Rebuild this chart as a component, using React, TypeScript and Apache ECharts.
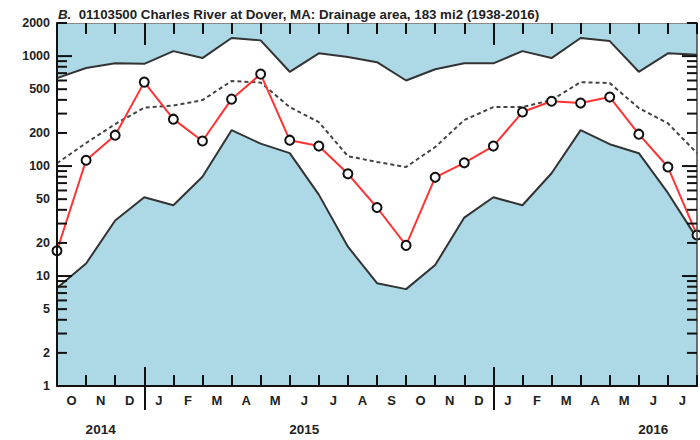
import { useEffect, useRef } from "react";
import * as echarts from "echarts";

// Month labels (centered between month boundaries)
const months = ["O", "N", "D", "J", "F", "M", "A", "M", "J", "J", "A", "S", "O", "N", "D", "J", "F", "M", "A", "M", "J", "J"];
const yearLabels = ["", "2014", "", "", "", "", "", "", "2015", "", "", "", "", "", "", "", "", "", "", "", "2016", ""];
const yearBreaks = [3, 15];

// Flow values at month boundaries (ft3/s)
const maxFlow = [630, 780, 860, 850, 1110, 960, 1460, 1390, 720, 1060, 980, 880, 600, 760, 860, 860, 1110, 960, 1460, 1370, 720, 1060, 1030];
const minFlow = [7.8, 13, 32, 52, 44, 80, 212, 160, 131, 55, 18.5, 8.6, 7.6, 12.6, 34, 52, 44, 86, 212, 158, 131, 57, 22];
const medianFlow = [106, 162, 241, 340, 355, 398, 593, 575, 344, 251, 123, 109, 98, 149, 262, 344, 344, 398, 580, 568, 337, 245, 131];
const flow = [17, 113, 191, 580, 267, 169, 406, 686, 172, 152, 85, 42, 19, 79, 107, 152, 310, 389, 374, 424, 195, 98, 23.6];

const Y_MIN = 1;
const Y_MAX = 2000;
const yLabelValues = [1, 2, 5, 10, 20, 50, 100, 200, 500, 1000, 2000];
const yMinorTicks = [2, 3, 4, 5, 6, 7, 8, 9, 20, 30, 40, 50, 60, 70, 80, 90, 200, 300, 400, 500, 600, 700, 800, 900, 2000];
const yMajorTicks = [10, 100, 1000];

export default function App() {
  const ref = useRef<HTMLDivElement>(null);
  useEffect(() => {
    const chart = echarts.init(ref.current!, null, { renderer: "svg" });
    const font = "'Liberation Sans', Arial, Helvetica, sans-serif";
    const textColor = "#222";
    const pts = (arr: number[]) => arr.map((v, i) => [i, v]);
    const X_MAX = months.length;
    const PLOT_W = 640; // grid width in px
    const pxToX = (px: number) => (px / PLOT_W) * X_MAX;

    // one short two-point line series per tick mark, on each frame side
    const tickSeriesList: any[] = [];
    const addTicks = (vals: number[], lenPx: number) => {
      const d = pxToX(lenPx);
      vals.forEach((v) => {
        [
          [[0, v], [d, v]],
          [[X_MAX - d, v], [X_MAX, v]],
        ].forEach((seg) => {
          tickSeriesList.push({
            type: "line",
            xAxisIndex: 0,
            yAxisIndex: 0,
            data: seg,
            showSymbol: false,
            symbol: "none",
            silent: true,
            clip: false,
            lineStyle: { color: "#111", width: 2 },
            z: 20,
          });
        });
      });
    };
    addTicks(yMinorTicks, 10);
    addTicks(yMajorTicks, 15);

    const valX = (extra: any) => ({
      type: "value",
      min: 0,
      max: X_MAX,
      splitLine: { show: false },
      axisLabel: { show: false },
      axisLine: { show: false, onZero: false },
      axisTick: { show: false },
      z: 10,
      ...extra,
    });

    const option: any = {
      animation: false,
      backgroundColor: "#ffffff",
      title: {
        text: "{b|B.}  01103500 Charles River at Dover, MA: Drainage area, 183 mi2 (1938-2016)",
        left: 53,
        top: 3,
        textStyle: {
          fontFamily: font,
          fontSize: 13.3,
          fontWeight: "bold",
          color: textColor,
          rich: {
            b: { fontFamily: font, fontSize: 13.3, fontWeight: "bold", fontStyle: "italic", color: textColor },
          },
        },
      },
      grid: { left: 57, right: 3, top: 23, bottom: 54, containLabel: false },
      xAxis: [
        valX({
          position: "bottom",
          interval: 1,
          axisLine: { show: true, onZero: false, lineStyle: { color: "#111", width: 2 } },
          axisTick: { show: true, inside: true, length: 11, lineStyle: { color: "#111", width: 2 } },
        }),
        {
          type: "category",
          data: months,
          position: "bottom",
          boundaryGap: true,
          axisLine: { show: false, onZero: false },
          axisTick: { show: false },
          axisLabel: { show: true, interval: 0, margin: 8, color: textColor, fontFamily: font, fontSize: 13, fontWeight: "bold" },
          z: 10,
        },
        valX({
          position: "top",
          interval: 1,
          axisLine: { show: true, onZero: false, lineStyle: { color: "#888", width: 1 } },
          axisTick: { show: true, inside: true, length: 11, lineStyle: { color: "#111", width: 2 } },
        }),
        valX({
          position: "top",
          axisTick: { show: true, inside: true, length: 22, customValues: yearBreaks, lineStyle: { color: "#111", width: 2 } },
        }),
        valX({
          position: "bottom",
          axisTick: { show: true, inside: true, length: 19, customValues: yearBreaks, lineStyle: { color: "#111", width: 2 } },
        }),
        valX({
          position: "bottom",
          axisTick: { show: true, inside: false, length: 24, customValues: yearBreaks, lineStyle: { color: "#111", width: 2 } },
        }),
        {
          type: "category",
          data: yearLabels,
          position: "bottom",
          boundaryGap: true,
          axisLine: { show: false, onZero: false },
          axisTick: { show: false },
          axisLabel: { show: true, interval: 0, margin: 36, color: textColor, fontFamily: font, fontSize: 13.5, fontWeight: "bold" },
          z: 10,
        },
      ],
      yAxis: [
        {
          type: "log",
          logBase: 10,
          min: Y_MIN,
          max: Y_MAX,
          position: "left",
          splitLine: { show: false },
          minorTick: { show: false },
          axisTick: { show: false },
          axisLine: { show: true, onZero: false, lineStyle: { color: "#111", width: 2 } },
          axisLabel: {
            show: true,
            customValues: yLabelValues,
            formatter: (v: number) => String(Math.round(v)),
            margin: 7,
            color: textColor,
            fontFamily: font,
            fontSize: 12.5,
            fontWeight: "bold",
          },
          z: 10,
        },
        {
          type: "log",
          logBase: 10,
          min: Y_MIN,
          max: Y_MAX,
          position: "right",
          splitLine: { show: false },
          minorTick: { show: false },
          axisTick: { show: false },
          axisLabel: { show: false },
          axisLine: { show: true, onZero: false, lineStyle: { color: "#444", width: 1.5 } },
          z: 10,
        },
      ],
      series: [
        {
          name: "Maximum",
          type: "line",
          xAxisIndex: 0,
          yAxisIndex: 0,
          data: pts(maxFlow),
          showSymbol: false,
          symbol: "none",
          lineStyle: { color: "#333", width: 2 },
          areaStyle: { origin: "end", color: "#add8e6", opacity: 1 },
          z: 1,
        },
        {
          name: "Minimum",
          type: "line",
          xAxisIndex: 0,
          yAxisIndex: 0,
          data: pts(minFlow),
          showSymbol: false,
          symbol: "none",
          lineStyle: { color: "#333", width: 2 },
          areaStyle: { origin: "start", color: "#add8e6", opacity: 1 },
          z: 1,
        },
        {
          name: "Median",
          type: "line",
          xAxisIndex: 0,
          yAxisIndex: 0,
          data: pts(medianFlow),
          showSymbol: false,
          symbol: "none",
          lineStyle: { color: "#444", width: 2, type: [4, 3] },
          z: 3,
        },
        {
          name: "2015 water year",
          type: "line",
          xAxisIndex: 0,
          yAxisIndex: 0,
          data: pts(flow),
          symbol: "circle",
          symbolSize: 9,
          showSymbol: true,
          clip: false,
          lineStyle: { color: "#ff3333", width: 2 },
          itemStyle: { color: "#ffffff", borderColor: "#111", borderWidth: 2 },
          z: 4,
        },
        ...tickSeriesList,
      ],
    };
    chart.setOption(option);
    return () => chart.dispose();
  }, []);
  return <div ref={ref} style={{ position: "fixed", left: 0, top: 0, width: 700, height: 440 }} />;
}
